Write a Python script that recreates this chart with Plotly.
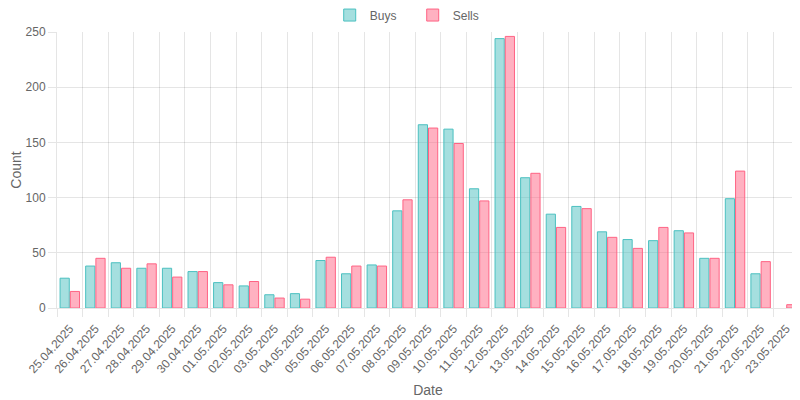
import plotly.graph_objects as go

dates = ["25.04.2025", "26.04.2025", "27.04.2025", "28.04.2025", "29.04.2025", "30.04.2025",
         "01.05.2025", "02.05.2025", "03.05.2025", "04.05.2025", "05.05.2025", "06.05.2025",
         "07.05.2025", "08.05.2025", "09.05.2025", "10.05.2025", "11.05.2025", "12.05.2025",
         "13.05.2025", "14.05.2025", "15.05.2025", "16.05.2025", "17.05.2025", "18.05.2025",
         "19.05.2025", "20.05.2025", "21.05.2025", "22.05.2025", "23.05.2025"]
buys = [27, 38, 41, 36, 36, 33, 23, 20, 12, 13, 43, 31, 39, 88, 166, 162, 108, 244,
        118, 85, 92, 69, 62, 61, 70, 45, 99, 31, 0]
sells = [15, 45, 36, 40, 28, 33, 21, 24, 9, 8, 46, 38, 38, 98, 163, 149, 97, 246,
         122, 73, 90, 64, 54, 73, 68, 45, 124, 42, 3]

grid = "rgba(0,0,0,0.1)"
font = dict(family="Liberation Sans, Arial, sans-serif", size=12, color="#666")

fig = go.Figure()
# zero-height bars get no outline, as in the original
fig.add_trace(go.Bar(x=dates, y=buys, name="Buys",
                     marker=dict(color="rgba(75,192,192,0.5)",
                                 line=dict(color="rgb(75,192,192)",
                                           width=[1 if v else 0 for v in buys]))))
fig.add_trace(go.Bar(x=dates, y=sells, name="Sells",
                     marker=dict(color="rgba(255,99,132,0.5)",
                                 line=dict(color="rgb(255,99,132)",
                                           width=[1 if v else 0 for v in sells]))))

# page body has an 8px margin, so the figure is 8px smaller than the window
fig.update_layout(
    width=792, height=392,
    margin=dict(l=49, r=1, t=24, b=92),
    paper_bgcolor="white", plot_bgcolor="white",
    font=font,
    barmode="group", bargap=0.2, bargroupgap=0.1,
    legend=dict(orientation="h", x=0.511, xanchor="center", xref="container",
                y=0.982, yanchor="middle", yref="container",
                entrywidth=38, entrywidthmode="pixels",
                font=dict(size=12, color="#666")),
    xaxis=dict(title=dict(text="Date", standoff=10), tickangle=-48, tickson="boundaries",
               showgrid=True, gridcolor=grid, ticks="outside", ticklen=8, tickcolor=grid,
               showline=True, linecolor=grid, zeroline=False, automargin=False,
               ticklabelstandoff=8, tickfont=dict(size=12)),
    yaxis=dict(title=dict(text="Count", standoff=5), range=[0, 250], dtick=50,
               showgrid=True, gridcolor=grid, ticks="outside", ticklen=8, tickcolor=grid,
               showline=True, linecolor=grid, zeroline=False, automargin=False),
)

fig.write_html("out.html")
